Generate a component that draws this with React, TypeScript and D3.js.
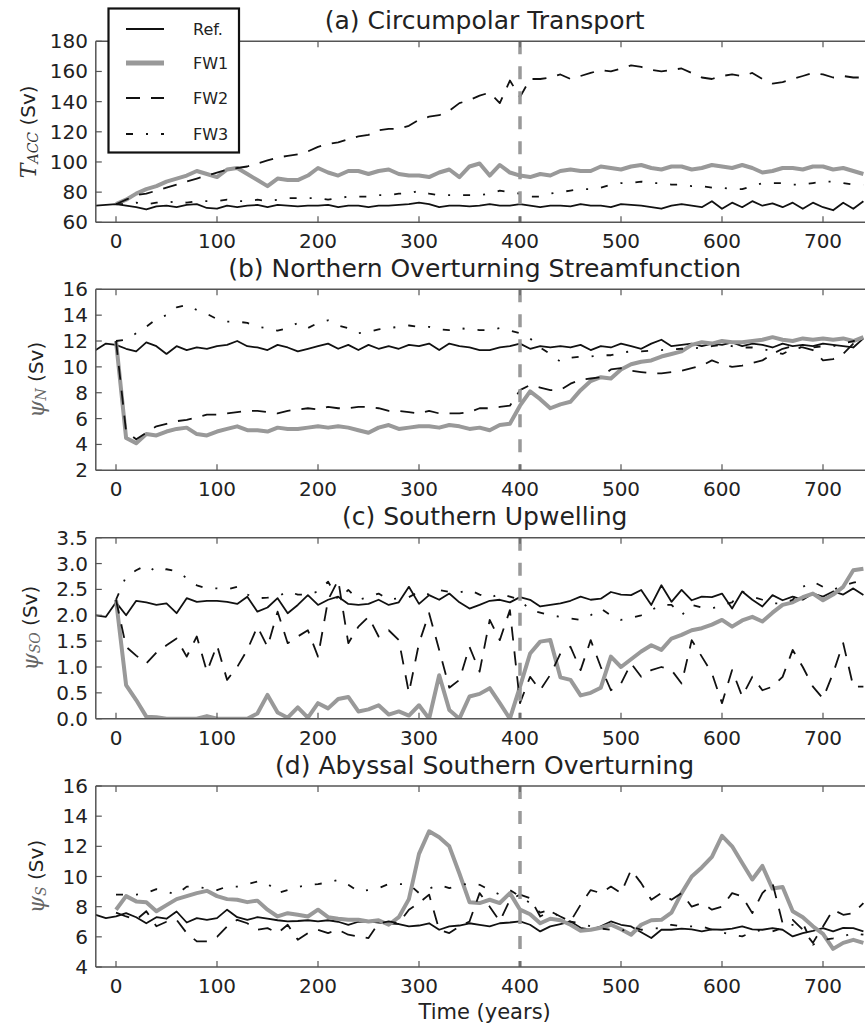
import React from 'react';
import * as d3 from 'd3';

// ---------- DATA ----------
const YEARS = [0,10,20,30,40,50,60,70,80,90,100,110,120,130,140,150,160,170,180,190,200,210,220,230,240,250,260,270,280,290,300,310,320,330,340,350,360,370,380,390,400,410,420,430,440,450,460,470,480,490,500,510,520,530,540,550,560,570,580,590,600,610,620,630,640,650,660,670,680,690,700,710,720,730,740];
const REF_YEARS = [-20, -10, ...YEARS];

const X_TICKS = [0, 100, 200, 300, 400, 500, 600, 700];
const SERIES_NAMES = ['Ref.', 'FW1', 'FW2', 'FW3'];
const SWITCH_YEAR = 400;

// (a) Circumpolar transport (Sv)
const REF_A = [71,71.5,
 72,71,70,68.5,70.5,71,70,71.5,72,69.5,
 69,71,70,71,71.5,70,71.5,71,70.5,71,
 71,71.5,70,71,71,70,71,71,71.5,72,
 73,72,70,71,71,70.5,71,72,71,71,
 72,71,70,71,71,70.5,72,71,71,70,
 72,71.5,71,70,69,71,72,71,70,74,
 69,73,70,74,71,72.5,70,73,69,73,
 70,68,73,69,74];
const FW1_A = [72,75,79,82,84,87,89,91,94,92,
 90,95,96,92,88,84,89,88,88,91,
 96,93,91,94,94,92,94,95,92,91,
 91,90,93,95,90,97,99,91,98,93,
 91,90,92,91,94,95,94,94,97,96,
 95,97,98,96,95,97,97,95,96,98,
 97,96,98,96,93,94,96,96,95,97,
 97,95,96,94,92];
const FW2_A = [72,75,78,79,81,83,85,87,89,91,
 93,95,96,97,99,101,103,104,105,107,
 110,112,113,115,117,118,121,122,122,124,
 128,130,131,134,139,141,144,146,139,154,
 143,155,155,156,158,155,157,159,161,160,
 162,164,163,161,160,161,162,159,156,155,
 157,158,157,159,155,152,153,155,157,159,
 158,156,157,156,156];
const FW3_A = [72,72,73,72,73,73,74,73,74,74,
 74,75,74,74,75,74,75,76,76,76,
 76,75,76,77,77,77,78,78,79,79,
 81,79,78,78,78,78,78,79,81,80,
 79,77,77,79,80,81,82,82,83,85,
 86,86,87,86,86,85,85,84,84,83,
 83,82,82,84,86,86,86,85,85,86,
 87,87,86,85,85];

// (b) Northern overturning (Sv)
const REF_B = [11.3,11.8,
 11.7,11.4,11.2,11.9,11.6,11.0,11.6,11.3,11.5,11.4,
 11.6,11.7,12.0,11.6,11.5,11.3,11.7,11.5,11.2,11.4,
 11.6,11.8,11.4,11.7,11.3,11.7,11.4,11.6,11.4,11.7,
 11.6,11.8,11.3,11.8,11.6,11.5,11.3,11.3,11.5,11.6,
 11.8,11.4,11.6,11.5,11.6,11.5,11.7,11.3,11.6,11.5,
 11.8,11.6,11.4,11.8,12.1,11.6,11.7,11.8,11.6,11.8,
 11.7,11.9,11.6,11.8,11.7,11.5,11.8,11.6,11.7,11.6,
 11.8,11.7,11.6,11.5,12.2];
const FW1_B = [12.0,4.5,4.1,4.8,4.7,5.0,5.2,5.3,4.8,4.7,
 5.0,5.2,5.4,5.1,5.1,5.0,5.3,5.2,5.2,5.3,
 5.4,5.3,5.4,5.3,5.1,4.9,5.3,5.5,5.2,5.3,
 5.4,5.4,5.3,5.5,5.4,5.2,5.3,5.1,5.5,5.6,
 7.0,8.1,7.5,6.8,7.1,7.3,8.2,8.9,9.2,9.1,
 9.8,10.2,10.4,10.5,10.8,11.0,11.2,11.7,11.9,11.8,
 12.0,11.9,11.9,12.0,12.1,12.3,12.1,12.0,12.2,12.1,
 12.2,12.1,12.2,12.0,12.3];
const FW2_B = [12.0,5.0,4.4,4.9,5.4,5.6,5.8,5.9,6.1,6.3,
 6.3,6.4,6.5,6.6,6.6,6.5,6.4,6.6,6.7,6.8,
 6.7,6.9,6.8,6.8,6.9,6.9,6.8,6.6,6.6,6.5,
 6.4,6.6,6.4,6.4,6.4,6.5,6.8,6.8,6.9,7.0,
 8.2,8.6,8.4,8.2,8.2,8.7,9.0,9.1,9.2,9.8,
 9.9,9.7,9.6,9.5,9.5,9.6,9.7,9.9,10.1,10.5,
 10.2,10.0,10.1,10.3,10.5,11.0,11.4,11.6,11.5,11.3,
 10.5,10.6,11.0,11.8,12.1];
const FW3_B = [12.0,12.1,12.6,13.1,13.7,14.0,14.6,14.8,14.4,14.1,
 13.7,13.5,13.5,13.4,13.1,13.0,12.8,13.0,13.4,13.0,
 13.4,13.6,13.2,13.0,12.6,12.7,12.9,13.0,13.1,13.2,
 13.1,13.1,12.9,12.85,13.0,12.9,12.85,12.85,13.0,12.8,
 12.6,12.2,11.5,11.0,10.4,10.7,10.8,10.8,10.9,10.9,
 11.1,11.2,11.2,11.25,11.3,11.35,11.4,11.4,11.5,11.6,
 11.7,11.6,11.5,11.5,11.4,11.2,11.0,11.4,11.5,11.5,
 11.6,11.6,11.8,12.0,12.1];

// (c) Southern upwelling (Sv)
const REF_C = [2.0,1.97,
 2.25,2.0,2.28,2.25,2.2,2.23,2.04,2.33,2.26,2.28,
 2.28,2.26,2.22,2.36,2.07,2.15,2.33,2.04,2.2,2.39,
 2.2,2.3,2.36,2.22,2.2,2.22,2.3,2.2,2.25,2.55,
 2.22,2.39,2.3,2.42,2.25,2.13,2.2,2.28,2.3,2.25,
 2.35,2.3,2.17,2.2,2.23,2.28,2.36,2.3,2.32,2.45,
 2.4,2.39,2.49,2.2,2.58,2.26,2.49,2.29,2.36,2.35,
 2.42,2.13,2.46,2.3,2.17,2.39,2.29,2.36,2.3,2.42,
 2.36,2.46,2.4,2.52,2.39];
const FW1_C = [2.3,0.65,0.36,0.04,0.03,0,0,0,0,0.05,
 0,0,0,0,0.1,0.46,0.12,0.02,0.22,0.02,
 0.3,0.2,0.38,0.42,0.14,0.18,0.26,0.08,0.14,0.06,
 0.26,0,0.84,0.17,0,0.43,0.48,0.59,0.3,0,
 0.62,1.26,1.49,1.52,0.8,0.75,0.45,0.5,0.6,1.2,
 1.0,1.15,1.3,1.42,1.33,1.55,1.62,1.71,1.75,1.82,
 1.91,1.78,1.9,1.97,1.88,2.05,2.2,2.25,2.35,2.42,
 2.29,2.4,2.55,2.87,2.9];
const FW2_C = [2.3,1.39,1.22,1.07,1.28,1.42,1.55,1.2,1.59,0.91,
 1.42,0.75,1.0,1.33,1.78,1.39,2.07,1.46,1.59,1.71,
 1.2,2.3,2.68,1.46,1.78,1.97,1.59,1.71,1.52,0.5,
 1.46,2.04,1.33,0.6,0.75,1.39,0.91,1.91,1.52,2.1,
 0.3,0.81,0.55,0.85,1.26,1.39,0.94,1.52,1.0,0.55,
 0.68,1.07,0.81,0.94,1.0,0.94,0.68,1.52,1.2,0.88,
 0.3,0.94,0.43,0.81,0.55,0.62,0.81,1.33,1.0,0.62,
 0.39,0.88,1.46,0.62,0.62];
const FW3_C = [2.3,2.75,2.87,2.97,2.84,2.89,2.85,2.72,2.58,2.52,
 2.52,2.5,2.55,2.4,2.33,2.34,2.36,2.46,2.4,2.4,
 2.46,2.65,2.3,2.49,2.3,2.35,2.42,2.3,2.33,2.35,
 2.46,2.4,2.49,2.45,2.44,2.49,2.4,2.33,2.42,2.36,
 2.3,2.1,2.05,2.0,1.97,1.94,1.91,2.0,2.13,2.0,
 1.91,1.95,2.0,2.1,2.2,2.2,2.0,2.2,2.15,2.13,
 2.2,2.25,2.46,2.36,2.3,2.23,2.23,2.3,2.55,2.65,
 2.55,2.49,2.58,2.63,2.68];

// (d) Abyssal southern overturning (Sv)
const REF_D = [7.46,7.24,
 7.35,7.57,7.3,6.9,7.3,7.2,7.68,6.95,7.24,7.13,
 7.24,7.8,7.3,7.13,7.3,7.2,7.1,7.02,7.05,7.1,
 7.02,7.1,7.0,6.8,7.0,7.02,6.95,6.9,6.85,6.69,
 6.75,6.9,6.47,6.69,6.75,6.9,6.8,6.69,6.9,6.95,
 7.02,6.8,6.36,6.69,6.85,7.02,6.6,6.47,6.69,7.02,
 6.8,6.69,6.3,5.92,6.47,6.47,6.55,6.5,6.36,6.5,
 6.47,6.55,6.69,6.5,6.47,6.58,6.47,6.03,6.25,6.4,
 6.58,6.36,6.6,6.58,6.36];
const FW1_D = [7.8,8.7,8.35,8.3,7.7,8.1,8.5,8.7,8.9,9.05,
 8.7,8.5,8.46,8.3,8.4,7.8,7.35,7.57,7.46,7.35,
 7.8,7.3,7.2,7.13,7.13,7.02,7.1,6.8,7.3,8.5,
 11.5,13.0,12.6,12.0,10.2,8.3,8.24,8.46,8.24,8.9,
 7.8,7.5,6.9,7.2,7.1,6.8,6.4,6.47,6.6,6.8,
 6.5,6.14,6.8,7.1,7.13,7.6,8.9,10.0,10.6,11.3,
 12.7,12.0,10.9,9.8,10.7,9.2,9.3,7.7,7.3,6.7,
 6.2,5.2,5.6,5.8,5.6];
const FW2_D = [7.6,7.35,7.13,7.7,6.7,7.0,7.13,6.25,5.7,5.7,
 6.0,6.69,7.13,6.9,6.47,6.58,6.25,6.8,5.8,6.25,
 6.47,6.25,6.47,6.14,6.03,5.92,6.9,7.02,6.9,7.8,
 8.24,8.8,6.47,6.25,6.69,7.02,8.9,8.0,7.02,8.46,
 8.8,8.57,7.35,7.7,7.35,7.02,8.13,9.1,8.9,9.33,
 8.9,10.44,9.56,8.46,8.9,8.46,8.9,8.0,8.24,7.8,
 8.0,8.9,8.68,7.57,8.9,9.56,6.9,7.13,6.47,5.6,
 6.69,7.8,7.46,7.57,8.24];
const FW3_D = [8.8,8.8,8.8,8.9,9.16,9.0,8.8,9.33,9.33,9.2,
 9.1,9.33,9.33,9.5,9.67,9.56,8.9,9.1,9.3,9.45,
 9.5,9.6,9.78,9.45,9.0,9.1,9.23,9.5,9.5,9.5,
 8.9,9.2,9.45,9.23,9.4,9.56,9.45,9.1,8.8,9.1,
 8.68,8.24,7.6,7.8,7.24,7.0,6.9,6.69,6.55,6.47,
 6.36,6.69,6.47,6.55,6.58,6.8,6.69,6.7,6.69,6.47,
 6.3,6.14,6.03,6.3,6.47,6.36,6.58,6.8,6.9,5.48,
 5.8,5.9,6.03,6.25,6.14];

const TICKS_A = [60, 80, 100, 120, 140, 160, 180];
const TICKS_B = [2, 4, 6, 8, 10, 12, 14, 16];
const TICKS_C = [0, 0.5, 1.0, 1.5, 2.0, 2.5, 3.0, 3.5];
const TICKS_D = [4, 6, 8, 10, 12, 14, 16];

// ---------- LAYOUT / STYLE ----------
const W = 865;
const H = 1026;
const PLOT_LEFT = 95.8;
const PLOT_H = 181;
const TOPS = [41.3, 289.3, 537.7, 786];
const SANS = "'DejaVu Sans', sans-serif";
const SERIF = "'DejaVu Serif', 'Liberation Serif', serif";
const SPINE = '#555';
const TXT = '#222';

const STYLES = [
  { stroke: '#111', width: 1.8, dash: undefined as string | undefined },
  { stroke: '#999', width: 4, dash: undefined as string | undefined },
  { stroke: '#111', width: 1.8, dash: '14,11' },
  { stroke: '#111', width: 1.8, dash: '7,13,2,13' },
];

const x = d3.scaleLinear().domain([-20, 750]).range([PLOT_LEFT, PLOT_LEFT + 770 * 1.01]);

type Panel = {
  title: string;
  sym: string;
  sub: string;
  symColor: string;
  domain: [number, number];
  ticks: number[];
  fmt: (v: number) => string;
  ylabX: number;
  series: number[][];
};

const PANELS: Panel[] = [
  { title: '(a) Circumpolar Transport', sym: 'T', sub: 'ACC', symColor: '#333', domain: [60, 180], ticks: TICKS_A, fmt: d3.format('d'), ylabX: 28, series: [REF_A, FW1_A, FW2_A, FW3_A] },
  { title: '(b) Northern Overturning Streamfunction', sym: 'ψ', sub: 'N', symColor: '#666', domain: [2, 16], ticks: TICKS_B, fmt: d3.format('d'), ylabX: 36, series: [REF_B, FW1_B, FW2_B, FW3_B] },
  { title: '(c) Southern Upwelling', sym: 'ψ', sub: 'SO', symColor: '#666', domain: [0, 3.5], ticks: TICKS_C, fmt: d3.format('.1f'), ylabX: 30, series: [REF_C, FW1_C, FW2_C, FW3_C] },
  { title: '(d) Abyssal Southern Overturning', sym: 'ψ', sub: 'S', symColor: '#666', domain: [4, 16], ticks: TICKS_D, fmt: d3.format('d'), ylabX: 36, series: [REF_D, FW1_D, FW2_D, FW3_D] },
];

function PanelView({ p, idx }: { p: Panel; idx: number }) {
  const top = TOPS[idx];
  const bottom = top + PLOT_H;
  const right = W + 20;
  const y = d3.scaleLinear().domain(p.domain).range([bottom, top]);
  const line = d3
    .line<[number, number]>()
    .x((d) => x(d[0]))
    .y((d) => y(d[1]));
  const clipId = `clip-${idx}`;
  const midY = (top + bottom) / 2;
  return (
    <g>
      <defs>
        <clipPath id={clipId}>
          <rect x={PLOT_LEFT} y={top} width={right - PLOT_LEFT} height={PLOT_H} />
        </clipPath>
      </defs>
      <g clipPath={`url(#${clipId})`}>
        {p.series.map((vals, si) => {
          const yrs = si === 0 ? REF_YEARS : YEARS;
          const pts = vals.map((v, i) => [yrs[i], v] as [number, number]);
          const st = STYLES[si];
          return (
            <path
              key={si}
              d={line(pts) || ''}
              fill="none"
              stroke={st.stroke}
              strokeWidth={st.width}
              strokeDasharray={st.dash}
              strokeLinejoin="round"
            />
          );
        })}
        <line
          x1={x(SWITCH_YEAR)}
          x2={x(SWITCH_YEAR)}
          y1={top}
          y2={bottom}
          stroke="#999"
          strokeWidth={3.5}
          strokeDasharray="13,12"
        />
      </g>
      <line x1={PLOT_LEFT} x2={right} y1={top} y2={top} stroke={SPINE} strokeWidth={1.5} />
      <line x1={PLOT_LEFT} x2={right} y1={bottom} y2={bottom} stroke={SPINE} strokeWidth={1.5} />
      <line x1={PLOT_LEFT} x2={PLOT_LEFT} y1={top} y2={bottom} stroke={SPINE} strokeWidth={1.5} />
      {X_TICKS.map((t) => (
        <g key={t}>
          <line x1={x(t)} x2={x(t)} y1={top} y2={top + 6} stroke={SPINE} strokeWidth={1.2} />
          <line x1={x(t)} x2={x(t)} y1={bottom} y2={bottom - 6} stroke={SPINE} strokeWidth={1.2} />
          <text x={x(t)} y={bottom + 26} textAnchor="middle" fontFamily={SANS} fontSize={20} fill={TXT}>
            {t}
          </text>
        </g>
      ))}
      {p.ticks.map((t) => (
        <g key={t}>
          <line x1={PLOT_LEFT} x2={PLOT_LEFT + 6} y1={y(t)} y2={y(t)} stroke={SPINE} strokeWidth={1.2} />
          <text x={88} y={y(t)} textAnchor="end" dominantBaseline="central" fontFamily={SANS} fontSize={20} fill={TXT}>
            {p.fmt(t)}
          </text>
        </g>
      ))}
      <text x={(PLOT_LEFT + x(750)) / 2} y={top - 12.5} textAnchor="middle" fontFamily={SANS} fontSize={25} fill={TXT}>
        {p.title}
      </text>
      <text
        transform={`translate(${p.ylabX},${midY}) rotate(-90)`}
        textAnchor="middle"
        dominantBaseline="central"
        fontFamily={SANS}
        fontSize={20}
        fill={TXT}
      >
        <tspan fontFamily={SERIF} fontStyle="italic" fontSize={22} fill={p.symColor}>
          {p.sym}
        </tspan>
        <tspan fontFamily={SERIF} fontStyle="italic" fontSize={14} fill={p.symColor} dy={5}>
          {p.sub}
        </tspan>
        <tspan dy={-5}>{'\u00a0(Sv)'}</tspan>
      </text>
    </g>
  );
}

function Legend() {
  const ys = [29, 63, 98, 134];
  return (
    <g>
      <rect x={108.5} y={8.5} width={130.5} height={144} fill="#fff" stroke="#111" strokeWidth={2.2} />
      {SERIES_NAMES.map((name, i) => {
        const st = STYLES[i];
        return (
          <g key={name}>
            <line
              x1={126}
              x2={164}
              y1={ys[i]}
              y2={ys[i]}
              stroke={st.stroke}
              strokeWidth={i === 1 ? 5 : 2}
              strokeDasharray={st.dash}
            />
            <text x={193} y={ys[i]} dominantBaseline="central" fontFamily={SANS} fontSize={16} fill={TXT}>
              {name}
            </text>
          </g>
        );
      })}
    </g>
  );
}

export default function App() {
  return (
    <svg
      width={W}
      height={H}
      viewBox={`0 0 ${W} ${H}`}
      style={{ position: 'absolute', left: 0, top: 0, background: '#fff' }}
    >
      <rect x={0} y={0} width={W} height={H} fill="#fff" />
      {PANELS.map((p, i) => (
        <PanelView key={i} p={p} idx={i} />
      ))}
      <text x={(PLOT_LEFT + x(750)) / 2} y={1019} textAnchor="middle" fontFamily={SANS} fontSize={21} fill={TXT}>
        Time (years)
      </text>
      <Legend />
    </svg>
  );
}
